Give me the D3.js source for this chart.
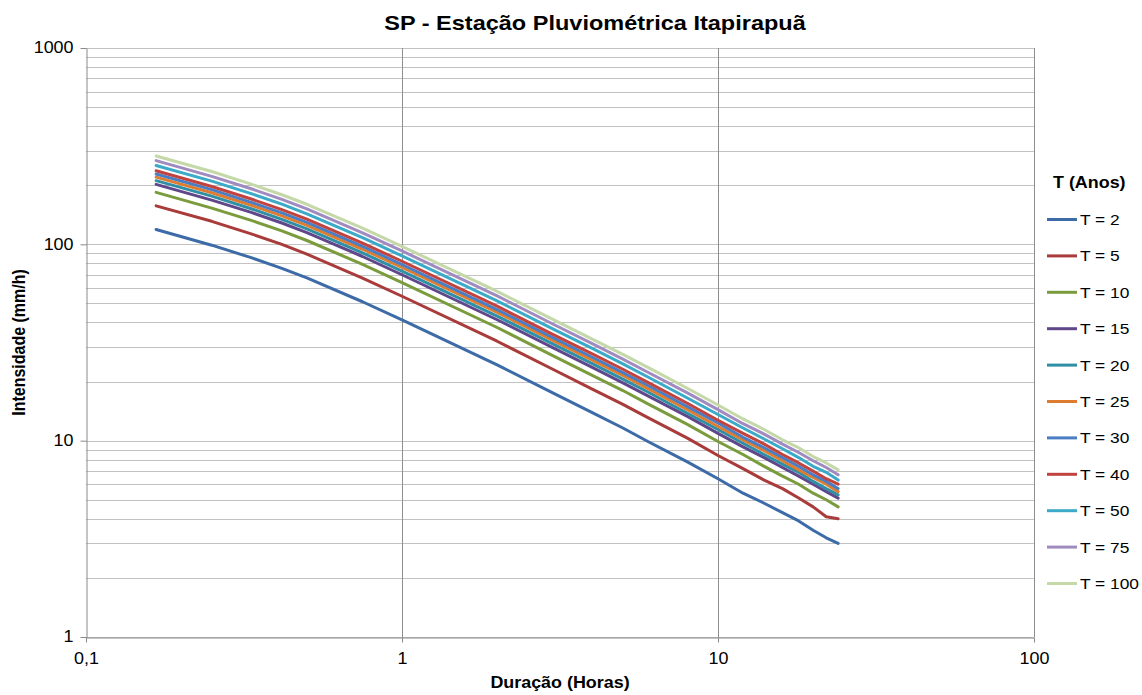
<!DOCTYPE html>
<html>
<head>
<meta charset="utf-8">
<script src="https://cdn.jsdelivr.net/npm/d3@7"></script>
<style>
  body { margin: 0; background: #fff; }
  svg { display: block; font-family: "Liberation Sans", Arial, sans-serif; }
</style>
</head>
<body>
<svg id="chart" width="1142" height="695"></svg>
<script>
// duration in hours (10, 15, 20, 25, 30, 45 min, then hours)
const durations = [0.1667, 0.25, 0.3333, 0.4167, 0.5, 0.75, 1, 2, 3, 4, 5, 6, 8, 10, 12, 14, 16, 18, 20, 22, 24];

const seriesNames = ["T = 2", "T = 5", "T = 10", "T = 15", "T = 20", "T = 25", "T = 30", "T = 40", "T = 50", "T = 75", "T = 100"];

// intensidade (mm/h) per return period
const t2   = [119, 99, 85.5, 75.5, 67.5, 51, 41.2, 24.3, 17.5, 13.9, 11.6, 9.9, 7.8, 6.4, 5.4, 4.8, 4.3, 3.9, 3.5, 3.2, 3.0];
const t5   = [157, 131, 113, 100, 89.1, 67.3, 54.4, 32.1, 23.1, 18.3, 15.3, 13.1, 10.3, 8.4, 7.2, 6.3, 5.7, 5.1, 4.6, 4.1, 4.0];
const t10  = [184, 153, 132.5, 117, 104.6, 79.1, 63.9, 37.7, 27.1, 21.5, 18.0, 15.4, 12.1, 9.9, 8.5, 7.4, 6.6, 6.0, 5.4, 5.0, 4.6];
const t15  = [202, 168, 145.4, 128.4, 114.8, 86.7, 70.0, 41.3, 29.8, 23.6, 19.7, 16.9, 13.3, 10.9, 9.3, 8.2, 7.3, 6.6, 6.0, 5.5, 5.1];
const t20  = [211, 176, 151.8, 134, 119.8, 90.5, 73.1, 43.1, 31.1, 24.7, 20.6, 17.7, 13.8, 11.4, 9.7, 8.5, 7.6, 6.9, 6.2, 5.7, 5.3];
const t25  = [220, 183, 158.2, 139.7, 124.9, 94.4, 76.2, 45.0, 32.4, 25.7, 21.5, 18.4, 14.4, 11.8, 10.1, 8.9, 7.9, 7.1, 6.5, 6.0, 5.5];
const t30  = [228, 190, 163.7, 144.6, 129.3, 97.7, 78.9, 46.5, 33.5, 26.6, 22.2, 19.1, 14.9, 12.3, 10.4, 9.2, 8.2, 7.4, 6.7, 6.2, 5.7];
const t40  = [237, 197, 170.1, 150.2, 134.3, 101.5, 82.0, 48.4, 34.8, 27.7, 23.1, 19.8, 15.5, 12.7, 10.9, 9.6, 8.5, 7.7, 7.0, 6.4, 6.0];
const t50  = [252, 210, 181.3, 160.1, 143.1, 108.1, 87.3, 51.5, 37.1, 29.5, 24.6, 21.1, 16.5, 13.6, 11.6, 10.2, 9.1, 8.2, 7.4, 6.9, 6.3];
const t75  = [267, 222, 191.9, 169.5, 151.5, 114.5, 92.5, 54.6, 39.3, 31.2, 26.0, 22.3, 17.5, 14.4, 12.2, 10.8, 9.6, 8.7, 7.9, 7.3, 6.7];
const t100 = [282, 235, 202.6, 178.9, 160.0, 120.9, 97.6, 57.6, 41.5, 32.9, 27.5, 23.6, 18.5, 15.2, 12.9, 11.4, 10.1, 9.2, 8.3, 7.7, 7.1];

const seriesValues = [t2, t5, t10, t15, t20, t25, t30, t40, t50, t75, t100];
const lineColors = ["#3d6ba7", "#a93b3a", "#7a9c3d", "#5f4789", "#2f8fa6", "#de7d30",
                    "#4a7ec4", "#c0433f", "#3baac8", "#a08bc0", "#c4d8a8"];

const xTicks = [0.1, 1, 10, 100];
const xTickLabels = ["0,1", "1", "10", "100"];
const yTicks = [1, 10, 100, 1000];

const chartTitle = "SP - Estação Pluviométrica Itapirapuã";
const xTitle = "Duração (Horas)";
const yTitle = "Intensidade (mm/h)";
const legendTitle = "T (Anos)";

// the reference text is slightly wider than tall
const sx = 1.12;
const plot = { left: 86, right: 1034, top: 48, bottom: 637 };

const svg = d3.select("#chart");

const x = d3.scaleLog().domain([0.1, 100]).range([plot.left, plot.right]);
const y = d3.scaleLog().domain([1, 1000]).range([plot.bottom, plot.top]);

// horizontal gridlines (major + minor)
svg.append("g")
  .selectAll("line")
  .data(y.ticks())
  .enter()
  .append("line")
  .attr("x1", plot.left)
  .attr("x2", plot.right)
  .attr("y1", d => Math.round(y(d)) + 0.5)
  .attr("y2", d => Math.round(y(d)) + 0.5)
  .attr("stroke", "#c3c3c3")
  .attr("stroke-width", 1);

// vertical gridlines (decades)
svg.append("g")
  .selectAll("line")
  .data(xTicks.slice(1))
  .enter()
  .append("line")
  .attr("x1", d => Math.round(x(d)) + 0.5)
  .attr("x2", d => Math.round(x(d)) + 0.5)
  .attr("y1", plot.top)
  .attr("y2", plot.bottom)
  .attr("stroke", "#8e8e8e")
  .attr("stroke-width", 1);

// axes
const xAxis = svg.append("g")
  .attr("transform", "translate(0," + (plot.bottom + 0.5) + ")")
  .call(d3.axisBottom(x).tickValues(xTicks).tickFormat((d, i) => xTickLabels[i]).tickSize(5).tickSizeOuter(0));

const yAxis = svg.append("g")
  .attr("transform", "translate(" + (plot.left + 0.5) + ",0)")
  .call(d3.axisLeft(y).tickValues(yTicks).tickFormat(d3.format("d")).tickSize(6).tickSizeOuter(0));

[xAxis, yAxis].forEach(a => {
  a.select(".domain").attr("stroke", "#8a8a8a");
  a.selectAll(".tick line").attr("stroke", "#8a8a8a");
  a.selectAll("text")
    .style("font-size", "16px")
    .style("font-family", "'Liberation Sans', Arial, sans-serif")
    .attr("fill", "#000");
});
xAxis.selectAll("text").attr("y", 15).attr("transform", "scale(" + sx + ",1)");
yAxis.selectAll("text").attr("x", -13 / sx).attr("dy", "0.3em").attr("transform", "scale(" + sx + ",1)");

// series lines
const line = d3.line()
  .x(d => x(d[0]))
  .y(d => y(d[1]));

svg.append("g")
  .selectAll("path")
  .data(seriesValues)
  .enter()
  .append("path")
  .attr("d", vals => line(durations.map((d, i) => [d, vals[i]])))
  .attr("fill", "none")
  .attr("stroke", (d, i) => lineColors[i])
  .attr("stroke-width", 3)
  .attr("stroke-linejoin", "round")
  .attr("stroke-linecap", "round");

// titles
svg.append("text")
  .attr("transform", "translate(595,30) scale(" + sx + ",1)")
  .attr("text-anchor", "middle")
  .style("font-size", "21px")
  .style("font-weight", "bold")
  .text(chartTitle);

svg.append("text")
  .attr("transform", "translate(" + (plot.left + plot.right) / 2 + ",688) scale(" + sx + ",1)")
  .attr("text-anchor", "middle")
  .style("font-size", "16px")
  .style("font-weight", "bold")
  .text(xTitle);

svg.append("text")
  .attr("transform", "translate(24.5," + (plot.top + plot.bottom) / 2 + ") rotate(-90) scale(1," + sx + ")")
  .attr("text-anchor", "middle")
  .style("font-size", "16px")
  .style("font-weight", "bold")
  .text(yTitle);

// legend
const legend = svg.append("g");
legend.append("text")
  .attr("transform", "translate(1053,188) scale(" + sx + ",1)")
  .style("font-size", "16px")
  .style("font-weight", "bold")
  .text(legendTitle);

const items = legend.selectAll("g.item")
  .data(seriesNames)
  .enter()
  .append("g")
  .attr("class", "item")
  .attr("transform", (d, i) => "translate(0," + (219.5 + i * 36.4) + ")");

items.append("line")
  .attr("x1", 1047)
  .attr("x2", 1077)
  .attr("stroke", (d, i) => lineColors[i])
  .attr("stroke-width", 3);

items.append("text")
  .attr("transform", "translate(1080,5.5) scale(" + sx + ",1)")
  .style("font-size", "15.5px")
  .text(d => d);
</script>
</body>
</html>
